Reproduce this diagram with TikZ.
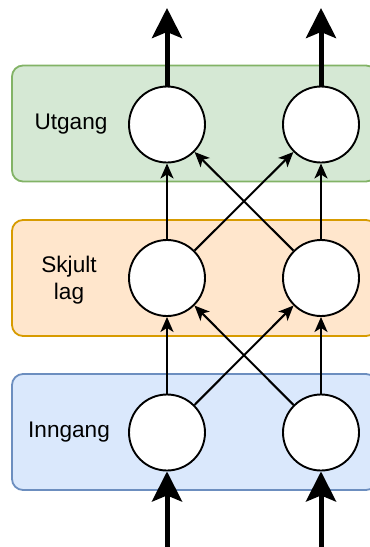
\documentclass[tikz,border=0pt]{standalone}
\usepackage{fontspec}
\setmainfont{Liberation Sans}
\usetikzlibrary{arrows.meta}
\definecolor{utfill}{HTML}{D5E8D4}
\definecolor{utline}{HTML}{82B366}
\definecolor{skfill}{HTML}{FFE6CC}
\definecolor{skline}{HTML}{D79B00}
\definecolor{innfill}{HTML}{DAE8FC}
\definecolor{innline}{HTML}{6C8EBF}
\begin{document}
\begin{tikzpicture}[x=1pt,y=-1pt,>={Stealth[length=15pt,width=13pt,inset=4pt]},
  layer box/.style={draw,line width=1.8pt,rounded corners=11pt,
    minimum width=365pt,minimum height=116pt,inner sep=0pt},
  unit node/.style={circle,draw,fill=white,line width=1.9pt,
    minimum size=76pt,inner sep=0pt},
  layer label/.style={font=\fontsize{22.6}{27}\selectfont,align=center},
  thin edge/.style={line width=2pt,->},
  thick edge/.style={line width=5pt,
    -{Stealth[length=30pt,width=30pt,inset=6pt]}}]
  \useasboundingbox (0,0) rectangle (370,547);
  \node[layer box,fill=utfill,draw=utline]   (ut)  at (194.5,123.5) {};
  \node[layer box,fill=skfill,draw=skline]   (sk)  at (194.5,278)   {};
  \node[layer box,fill=innfill,draw=innline] (inn) at (194.5,432)   {};
  \node[layer label] (utlab)  at (71,124)  {Utgang};
  \node[layer label] (sklab)  at (69,280)  {Skjult\\lag};
  \node[layer label] (innlab) at (69,432)  {Inngang};
  \node[unit node] (o1) at (167,124.5) {};
  \node[unit node] (o2) at (321,124.5) {};
  \node[unit node] (h1) at (167,278)   {};
  \node[unit node] (h2) at (321,278)   {};
  \node[unit node] (i1) at (167,432.5) {};
  \node[unit node] (i2) at (321,432.5) {};
  \coordinate (top1) at (167,8);
  \coordinate (top2) at (321,8);
  \coordinate (bot1) at (167,550);
  \coordinate (bot2) at (321,550);
  \draw[thick edge] (bot1) -- (i1);
  \draw[thick edge] (bot2) -- (i2);
  \draw[thick edge] (o1) -- (top1);
  \draw[thick edge] (o2) -- (top2);
  \path[every edge/.style={draw,thin edge}]
    (i1) edge (h1)
    (i1) edge (h2)
    (i2) edge (h1)
    (i2) edge (h2)
    (h1) edge (o1)
    (h1) edge (o2)
    (h2) edge (o1)
    (h2) edge (o2);
\end{tikzpicture}
\end{document}
